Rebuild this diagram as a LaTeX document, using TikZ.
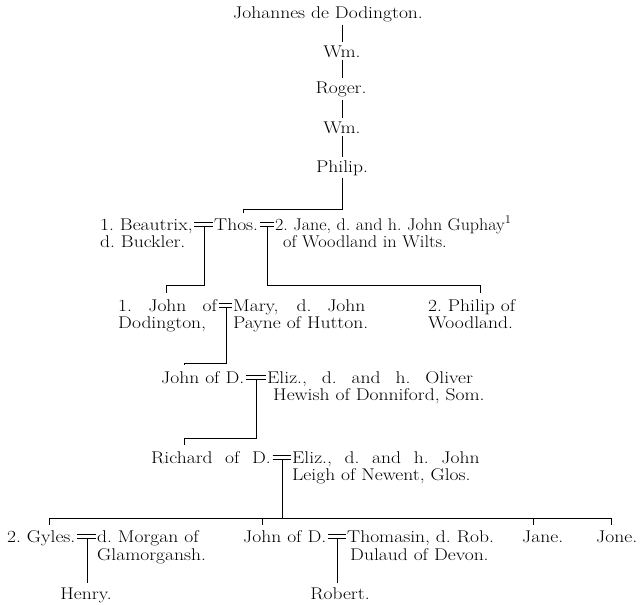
\documentclass[tikz,border=0pt]{standalone}
\usetikzlibrary{calc}
\tikzset{
  nm/.style={anchor=base west, inner sep=0pt},
  nc/.style={anchor=base, inner sep=0pt},
  every node/.style={font=\fontsize{17}{18}\selectfont},
  ln/.style={line width=0.8pt, black}
}
\newcommand{\sx}[1]{\scalebox{1.15}[1]{#1}}
\newcommand{\sj}[2]{\scalebox{1.15}[1]{\makebox[#1][s]{#2}}}
\newcommand{\wed}[3]{%
  \draw[ln] ([xshift=1.5pt,yshift=8pt]#1.base east) -- ([xshift=-1.5pt,yshift=8pt]#2.base west);
  \draw[ln] ([xshift=1.5pt,yshift=4pt]#1.base east) -- ([xshift=-1.5pt,yshift=4pt]#2.base west);
  \coordinate (#3) at ($([yshift=4pt]#1.base east)!0.55!([yshift=4pt]#2.base west)$);
}
\begin{document}
\begin{tikzpicture}[x=1pt,y=-1pt]
\fill[white] (0,0) rectangle (640,605);
\useasboundingbox (0,0) rectangle (640,605);
% line of descent
\node[nc] (jo) at (328,18) {\sx{Johannes de Dodington.}};
\node[nc] (w1) at (342,57) {\sx{Wm.}};
\node[nc] (ro) at (341,93) {\sx{Roger.}};
\node[nc] (w2) at (342,133) {\sx{Wm.}};
\node[nc] (ph) at (342,172) {\sx{Philip.}};
\draw[ln] (jo.south -| w1) ++(0,3) -- ([yshift=3pt]w1.north);
\draw[ln] ([yshift=-3pt]w1.south) -- ([yshift=3pt]w1.north |- ro.north);
\draw[ln] ([yshift=-3pt]ro.south -| w1) -- ([yshift=3pt]w2.north);
\draw[ln] ([yshift=-3pt]w2.south) -- ([yshift=3pt]ph.north);
% row 2
\node[nm] (b1) at (100,230) {\sx{1.\ Beautrix,}};
\node[nm] (b2) at (100,247) {\sx{d.\ Buckler.}};
\node[nm] (th) at (214,230) {\sx{Thos.}};
\node[nm] (ja1) at (275,230) {\scalebox{1.06}[1]{2.\ Jane, d.\ and h.\ John Guphay\textsuperscript{1}}};
\node[nm] (ja2) at (283,247) {\scalebox{1.08}[1]{of Woodland in Wilts.}};
\draw[ln] ([yshift=-2pt]ph.south) -- ([yshift=-2pt]ph.south |- 0,207) -| ([xshift=29pt,yshift=5pt]th.north west);
\wed{b1}{th}{mB}
\wed{th}{ja1}{mJ}
% row 3
\node[nm] (jm1) at (118,311) {\sj{86pt}{1.\ John of}};
\node[nm] (jm2) at (118,328) {\sx{Dodington,}};
\node[nm] (ma1) at (233,311) {\sj{115pt}{Mary, d.\ John}};
\node[nm] (ma2) at (233,328) {\sx{Payne of Hutton.}};
\node[nm] (pw1) at (428,311) {\sx{2.\ Philip of}};
\node[nm] (pw2) at (428,328) {\sx{Woodland.}};
\draw[ln] (mB) -- (mB |- 0,285) -| ([xshift=48pt,yshift=6pt]jm1.north west);
\draw[ln] (mJ) -- (mJ |- 0,285) -| ([xshift=52pt,yshift=6pt]pw1.north west);
\wed{jm1}{ma1}{mM}
% row 4
\node[nm] (jd) at (161,383) {\sx{John of D.}};
\node[nm] (el1) at (267,383) {\sj{179pt}{Eliz.,\ d.\ and h.\ Oliver}};
\node[nm] (el2) at (273,400) {\sx{Hewish of Donniford, Som.}};
\draw[ln] (mM) -- (mM |- 0,363) -| ([xshift=23pt,yshift=6pt]jd.north west);
\wed{jd}{el1}{mE}
% row 5
\node[nm] (ri) at (151,463) {\sj{104pt}{Richard of D.}};
\node[nm] (le1) at (292,463) {\sj{163pt}{Eliz.,\ d.\ and h.\ John}};
\node[nm] (le2) at (292,480) {\sx{Leigh of Newent, Glos.}};
\draw[ln] (mE) -- (mE |- 0,438) -| ([xshift=33pt,yshift=6pt]ri.north west);
\wed{ri}{le1}{mR}
% row 6
\node[nm] (gy) at (7,542) {\sx{2.\ Gyles.}};
\node[nm] (mo1) at (97,542) {\sx{d.\ Morgan of}};
\node[nm] (mo2) at (97,560) {\sx{Glamorgansh.}};
\node[nm] (jd2) at (243,542) {\sx{John of D.}};
\node[nm] (tm1) at (347,542) {\sx{Thomasin, d.\ Rob.}};
\node[nm] (tm2) at (350,560) {\sx{Dulaud of Devon.}};
\node[nm] (jn) at (522,542) {\sx{Jane.}};
\node[nm] (jo2) at (596,542) {\sx{Jone.}};
\coordinate (tG) at ([xshift=42pt,yshift=5pt]gy.north west);
\coordinate (tD) at ([xshift=19pt,yshift=5pt]jd2.north west);
\coordinate (tA) at ([xshift=11pt,yshift=5pt]jn.north west);
\coordinate (tO) at ([xshift=15pt,yshift=5pt]jo2.north west);
\draw[ln] (mR) -- (mR |- 0,518);
\draw[ln] (tG) -- (tG |- 0,518) -| (tO);
\draw[ln] (tD) -- (tD |- 0,518);
\draw[ln] (tA) -- (tA |- 0,518);
\wed{gy}{mo1}{mG}
\wed{jd2}{tm1}{mT}
% row 7
\node[nc] (he) at (86,599) {\sx{Henry.}};
\node[nc] (rb) at (340,599) {\sx{Robert.}};
\draw[ln] (mG) -- ([yshift=4pt]mG |- he.north);
\draw[ln] (mT) -- ([yshift=4pt]mT |- rb.north);
\end{tikzpicture}
\end{document}
